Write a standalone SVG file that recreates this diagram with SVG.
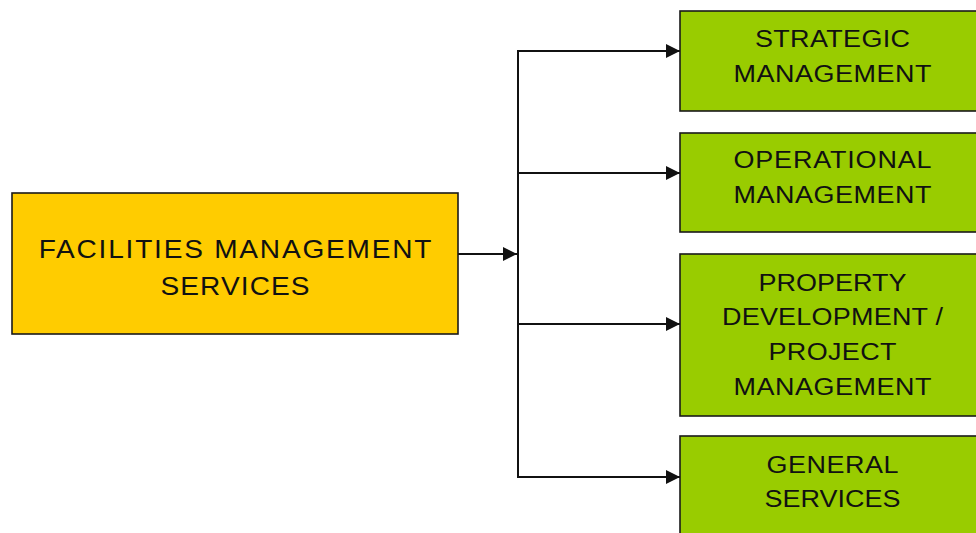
<svg xmlns="http://www.w3.org/2000/svg" width="976" height="533" viewBox="0 0 976 533">
  <style>
    .box { stroke: #1a1a1a; stroke-width: 1.6; }
    .main { fill: #ffcc00; }
    .sub { fill: #99cc00; }
    .lbl { font-family: "Liberation Sans", Arial, sans-serif; fill: #111; text-anchor: middle; }
    .big { font-size: 25.5px; }
    .small { font-size: 24.5px; }
    .wire { fill: none; stroke: #111; stroke-width: 2; }
  </style>
  <defs>
    <marker id="arrow" markerUnits="userSpaceOnUse" markerWidth="14" markerHeight="14" viewBox="0 0 13 13" refX="13" refY="6.5" orient="auto">
      <path d="M0,0 L13,6.5 L0,13 Z" fill="#111"/>
    </marker>
  </defs>

  <rect width="976" height="533" fill="#ffffff"/>

  <!-- connectors -->
  <g id="connectors">
    <line class="wire" x1="458" y1="254" x2="517" y2="254" marker-end="url(#arrow)"/>
    <line class="wire" x1="518" y1="50" x2="518" y2="478"/>
    <line class="wire" x1="517" y1="51" x2="680" y2="51" marker-end="url(#arrow)"/>
    <line class="wire" x1="517" y1="173" x2="680" y2="173" marker-end="url(#arrow)"/>
    <line class="wire" x1="517" y1="324" x2="680" y2="324" marker-end="url(#arrow)"/>
    <line class="wire" x1="517" y1="477" x2="680" y2="477" marker-end="url(#arrow)"/>
  </g>

  <!-- root node (labels drawn slightly wide: scaled 1.1 horizontally) -->
  <g id="fm-services">
    <rect class="box main" x="12" y="193" width="446" height="141"/>
    <g transform="translate(235,0) scale(1.1,1)">
      <text class="lbl big" x="0" y="258" textLength="357" lengthAdjust="spacing">FACILITIES MANAGEMENT</text>
      <text class="lbl big" x="0" y="295" textLength="135.5" lengthAdjust="spacing">SERVICES</text>
    </g>
  </g>

  <!-- child nodes -->
  <g id="strategic">
    <rect class="box sub" x="680" y="11" width="306" height="100"/>
    <g transform="translate(832.5,0) scale(1.1,1)">
      <text class="lbl small" x="0" y="47" textLength="141" lengthAdjust="spacing">STRATEGIC</text>
      <text class="lbl small" x="0" y="82" textLength="180" lengthAdjust="spacing">MANAGEMENT</text>
    </g>
  </g>

  <g id="operational">
    <rect class="box sub" x="680" y="133" width="306" height="99"/>
    <g transform="translate(832.5,0) scale(1.1,1)">
      <text class="lbl small" x="0" y="168" textLength="180" lengthAdjust="spacing">OPERATIONAL</text>
      <text class="lbl small" x="0" y="203" textLength="180" lengthAdjust="spacing">MANAGEMENT</text>
    </g>
  </g>

  <g id="property">
    <rect class="box sub" x="680" y="254" width="306" height="162"/>
    <g transform="translate(832.5,0) scale(1.1,1)">
      <text class="lbl small" x="0" y="291" textLength="134.5" lengthAdjust="spacing">PROPERTY</text>
      <text class="lbl small" x="0" y="325" textLength="201" lengthAdjust="spacing">DEVELOPMENT /</text>
      <text class="lbl small" x="0" y="360" textLength="116.5" lengthAdjust="spacing">PROJECT</text>
      <text class="lbl small" x="0" y="395" textLength="180" lengthAdjust="spacing">MANAGEMENT</text>
    </g>
  </g>

  <g id="general">
    <rect class="box sub" x="680" y="436" width="306" height="110"/>
    <g transform="translate(832.5,0) scale(1.1,1)">
      <text class="lbl small" x="0" y="473" textLength="120" lengthAdjust="spacing">GENERAL</text>
      <text class="lbl small" x="0" y="507" textLength="123.5" lengthAdjust="spacing">SERVICES</text>
    </g>
  </g>
</svg>
